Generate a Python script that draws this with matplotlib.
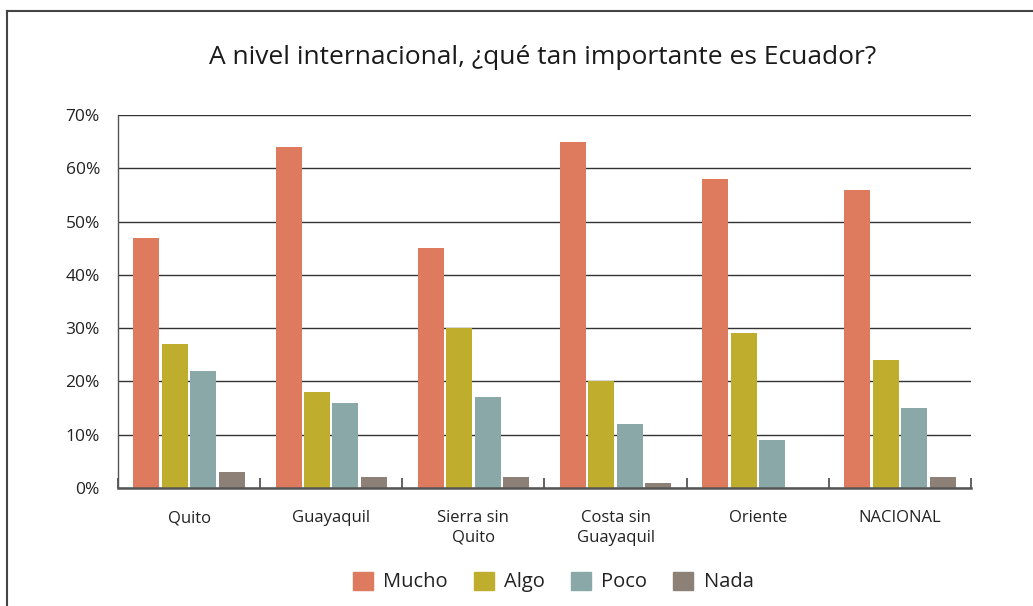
import matplotlib
matplotlib.use("Agg")
import matplotlib.pyplot as plt
import numpy as np
from matplotlib.lines import Line2D

plt.rcParams['font.family'] = ['Open Sans', 'DejaVu Sans']

categories = ["Quito", "Guayaquil", "Sierra sin\nQuito", "Costa sin\nGuayaquil", "Oriente", "NACIONAL"]
series_names = ["Mucho", "Algo", "Poco", "Nada"]
mucho = [47, 64, 45, 65, 58, 56]
algo = [27, 18, 30, 20, 29, 24]
poco = [22, 16, 17, 12, 9, 15]
nada = [3, 2, 2, 1, 0, 2]
yticks = [0, 10, 20, 30, 40, 50, 60, 70]
title = "A nivel internacional, ¿qué tan importante es Ecuador?"

colors = ["#DE7A5E", "#BFAE2E", "#8AA8A8", "#8D8076"]
series = [mucho, algo, poco, nada]

fig = plt.figure(figsize=(10.33, 6.06), dpi=100)
ax = fig.add_axes([118/1033, 1-488/606, (971-118)/1033, (488-115)/606])

x = np.arange(len(categories))
step = 0.2
width = 0.183
for i, (vals, c, name) in enumerate(zip(series, colors, series_names)):
    ax.bar(x + (i - 1.5) * step, vals, width=width, color=c, label=name, zorder=3)

ax.set_xlim(-0.5, len(categories) - 0.5)
ax.set_ylim(0, 70)
ax.set_yticks(yticks)
ax.set_yticklabels([f"{v}%" for v in yticks])
ax.yaxis.grid(True, color="#333333", linewidth=1.0, zorder=0)
ax.set_axisbelow(True)
for s in ["top", "right"]:
    ax.spines[s].set_visible(False)
ax.spines["left"].set_color("#555555")
ax.spines["left"].set_linewidth(1.0)
ax.spines["bottom"].set_color("#555555")
ax.spines["bottom"].set_linewidth(1.8)
ax.spines["bottom"].set_zorder(4)

ax.set_xticks(x)
ax.set_xticklabels(categories, fontsize=12, color="#222222", linespacing=1.3)
ax.set_xticks(np.arange(len(categories) + 1) - 0.5, minor=True)
ax.tick_params(axis="x", which="major", length=0, pad=16)
ax.tick_params(axis="x", which="minor", length=7, direction="in", width=1.3, color="#555555")
ax.tick_params(axis="y", length=0, pad=13, labelsize=12.5, labelcolor="#222222")

fig.text(543/1033, 1-58/606, title, ha="center", va="center", fontsize=19, color="#1a1a1a")

handles = [plt.Rectangle((0, 0), 1, 1, color=c) for c in colors]
fig.legend(handles, series_names, loc="center", bbox_to_anchor=(553/1033, 1-582/606),
           ncol=4, frameon=False, fontsize=14.5, handlelength=1.0, handleheight=1.0,
           columnspacing=1.3, handletextpad=0.5, labelcolor="#222222")

# frame lines (left and top)
fig.add_artist(Line2D([7/1033, 7/1033], [0, 1-11/606], transform=fig.transFigure, color="#444444", lw=1.5))
fig.add_artist(Line2D([7/1033, 1], [1-11/606, 1-11/606], transform=fig.transFigure, color="#444444", lw=1.5))

fig.savefig("out.png", dpi=100)
